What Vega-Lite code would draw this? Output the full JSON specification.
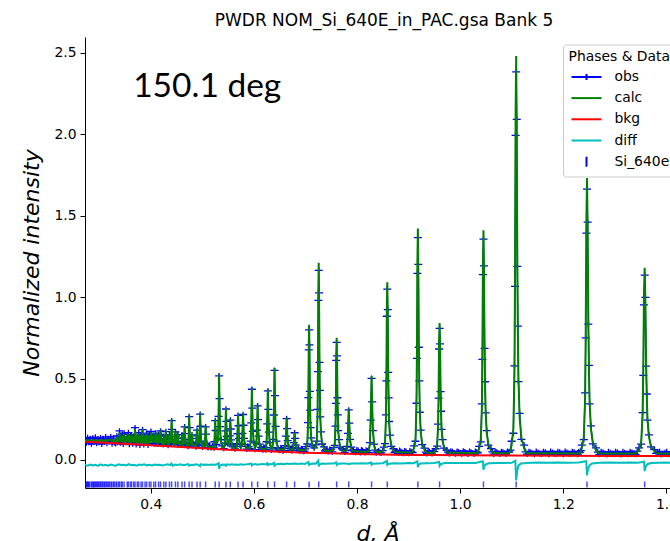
{
"$schema":"https://vega.github.io/schema/vega-lite/v6.json",
"width":585,"height":451,
"autosize":{"type":"none"},
"padding":{"left":85,"top":37,"right":0,"bottom":53},
"background":"white",
"title":{"text":"PWDR NOM_Si_640E_in_PAC.gsa Bank 5","font":"DejaVu Sans","fontSize":17,"fontWeight":"normal","color":"black","offset":7,"dx":6.5},
"config":{
 "view":{"stroke":null},
 "axis":{"domain":true,"domainColor":"black","domainWidth":1,"grid":false,"ticks":true,"tickColor":"black","tickSize":5,"tickWidth":1,"labelFont":"DejaVu Sans","labelFontSize":13.9,"labelColor":"black","labelPadding":4,"labelFlush":false,"labelOverlap":false,"titleFont":"DejaVu Sans","titleFontSize":22,"titleFontStyle":"italic","titleFontWeight":"normal","titleColor":"black"},
 "axisX":{"titlePadding":13},
 "axisY":{"titlePadding":10},
 "legend":{"padding":5.5,"fillColor":"rgba(255,255,255,0.8)","strokeColor":"#cccccc","cornerRadius":3,"titleFont":"DejaVu Sans","titleFontSize":13.9,"titleFontWeight":"normal","titleColor":"black","titlePadding":2,"labelFont":"DejaVu Sans","labelFontSize":13.9,"labelColor":"black","labelOffset":17,"symbolSize":400,"symbolStrokeWidth":2,"symbolOffset":7,"rowPadding":3.2,"symbolOpacity":1}
},
"datasets":{
"prof":[
{"d":0.2725,"obs":0.124,"calc":0.118},{"d":0.2750,"obs":0.103,"calc":0.119},{"d":0.2775,"obs":0.138,"calc":0.122},{"d":0.2800,"obs":0.108,"calc":0.118},{"d":0.2825,"obs":0.131,"calc":0.121},{"d":0.2850,"obs":0.098,"calc":0.116},{"d":0.2875,"obs":0.135,"calc":0.122},{"d":0.2900,"obs":0.112,"calc":0.118},{"d":0.2925,"obs":0.140,"calc":0.123},{"d":0.2950,"obs":0.101,"calc":0.116},{"d":0.2975,"obs":0.129,"calc":0.120},{"d":0.3000,"obs":0.107,"calc":0.117},{"d":0.3025,"obs":0.136,"calc":0.122},{"d":0.3050,"obs":0.097,"calc":0.115},{"d":0.3075,"obs":0.132,"calc":0.121},{"d":0.3100,"obs":0.110,"calc":0.118},{"d":0.3125,"obs":0.142,"calc":0.125},{"d":0.3150,"obs":0.102,"calc":0.116},{"d":0.3175,"obs":0.131,"calc":0.121},{"d":0.3200,"obs":0.114,"calc":0.121},{"d":0.3225,"obs":0.143,"calc":0.126},{"d":0.3250,"obs":0.099,"calc":0.114},{"d":0.3275,"obs":0.134,"calc":0.123},{"d":0.3300,"obs":0.106,"calc":0.116},
{"d":0.3320,"obs":0.100,"calc":0.108},{"d":0.3343,"obs":0.147,"calc":0.140},{"d":0.3359,"obs":0.108,"calc":0.110},{"d":0.3375,"obs":0.125,"calc":0.130},{"d":0.3385,"obs":0.112,"calc":0.112},{"d":0.3394,"obs":0.178,"calc":0.170},{"d":0.3411,"obs":0.104,"calc":0.110},{"d":0.3428,"obs":0.135,"calc":0.140},{"d":0.3438,"obs":0.114,"calc":0.112},{"d":0.3449,"obs":0.158,"calc":0.150},{"d":0.3466,"obs":0.097,"calc":0.108},{"d":0.3484,"obs":0.165,"calc":0.160},{"d":0.3513,"obs":0.112,"calc":0.105},{"d":0.3543,"obs":0.142,"calc":0.150},{"d":0.3555,"obs":0.118,"calc":0.112},{"d":0.3566,"obs":0.168,"calc":0.160},{"d":0.3585,"obs":0.095,"calc":0.106},{"d":0.3605,"obs":0.155,"calc":0.150},{"d":0.3617,"obs":0.116,"calc":0.110},{"d":0.3629,"obs":0.152,"calc":0.160},{"d":0.3650,"obs":0.099,"calc":0.104},{"d":0.3670,"obs":0.146,"calc":0.140},{"d":0.3683,"obs":0.110,"calc":0.108},{"d":0.3695,"obs":0.198,"calc":0.190},{"d":0.3717,"obs":0.094,"calc":0.103},{"d":0.3739,"obs":0.143,"calc":0.150},{"d":0.3752,"obs":0.112,"calc":0.107},{"d":0.3766,"obs":0.167,"calc":0.160},{"d":0.3789,"obs":0.091,"calc":0.102},{"d":0.3812,"obs":0.156,"calc":0.150},{"d":0.3826,"obs":0.108,"calc":0.106},{"d":0.3840,"obs":0.186,"calc":0.190},{"d":0.3865,"obs":0.093,"calc":0.101},{"d":0.3889,"obs":0.144,"calc":0.150},{"d":0.3905,"obs":0.109,"calc":0.104},{"d":0.3920,"obs":0.165,"calc":0.160},{"d":0.3946,"obs":0.090,"calc":0.099},{"d":0.3972,"obs":0.156,"calc":0.150},{"d":0.3988,"obs":0.104,"calc":0.103},{"d":0.4004,"obs":0.176,"calc":0.170},
{"d":0.4046,"obs":0.104,"calc":0.108},{"d":0.4059,"obs":0.146,"calc":0.150},{"d":0.4066,"obs":0.131,"calc":0.128},{"d":0.4077,"obs":0.098,"calc":0.107},{"d":0.4081,"obs":0.118,"calc":0.111},{"d":0.4094,"obs":0.165,"calc":0.170},{"d":0.4101,"obs":0.143,"calc":0.139},{"d":0.4112,"obs":0.101,"calc":0.108},{"d":0.4130,"obs":0.111,"calc":0.100},{"d":0.4140,"obs":0.097,"calc":0.108},{"d":0.4153,"obs":0.158,"calc":0.160},{"d":0.4160,"obs":0.129,"calc":0.133},{"d":0.4171,"obs":0.112,"calc":0.106},{"d":0.4177,"obs":0.103,"calc":0.111},{"d":0.4190,"obs":0.178,"calc":0.185},{"d":0.4197,"obs":0.152,"calc":0.146},{"d":0.4208,"obs":0.100,"calc":0.109},{"d":0.4230,"obs":0.108,"calc":0.097},{"d":0.4241,"obs":0.094,"calc":0.105},{"d":0.4254,"obs":0.146,"calc":0.150},{"d":0.4261,"obs":0.131,"calc":0.126},{"d":0.4272,"obs":0.099,"calc":0.103},{"d":0.4281,"obs":0.113,"calc":0.109},{"d":0.4294,"obs":0.174,"calc":0.180},{"d":0.4301,"obs":0.147,"calc":0.142},{"d":0.4312,"obs":0.101,"calc":0.107},{"d":0.4337,"obs":0.089,"calc":0.096},{"d":0.4349,"obs":0.108,"calc":0.105},{"d":0.4362,"obs":0.155,"calc":0.160},{"d":0.4369,"obs":0.136,"calc":0.131},{"d":0.4380,"obs":0.097,"calc":0.103},{"d":0.4392,"obs":0.124,"calc":0.118},{"d":0.4405,"obs":0.241,"calc":0.250},{"d":0.4412,"obs":0.188,"calc":0.180},{"d":0.4423,"obs":0.108,"calc":0.114},{"d":0.4450,"obs":0.101,"calc":0.094},{"d":0.4466,"obs":0.098,"calc":0.106},{"d":0.4479,"obs":0.173,"calc":0.180},{"d":0.4486,"obs":0.146,"calc":0.141},{"d":0.4497,"obs":0.109,"calc":0.104},{"d":0.4513,"obs":0.095,"calc":0.103},{"d":0.4526,"obs":0.156,"calc":0.160},{"d":0.4533,"obs":0.134,"calc":0.130},{"d":0.4544,"obs":0.096,"calc":0.101},{"d":0.4570,"obs":0.103,"calc":0.092},{"d":0.4593,"obs":0.093,"calc":0.101},{"d":0.4606,"obs":0.155,"calc":0.160},{"d":0.4613,"obs":0.133,"calc":0.129},{"d":0.4624,"obs":0.104,"calc":0.099},{"d":0.4644,"obs":0.101,"calc":0.108},{"d":0.4657,"obs":0.203,"calc":0.210},{"d":0.4664,"obs":0.162,"calc":0.156},{"d":0.4675,"obs":0.098,"calc":0.104},{"d":0.4700,"obs":0.097,"calc":0.089},{"d":0.4725,"obs":0.083,"calc":0.089},{"d":0.4732,"obs":0.124,"calc":0.117},{"d":0.4745,"obs":0.266,"calc":0.275},{"d":0.4752,"obs":0.199,"calc":0.191},{"d":0.4763,"obs":0.104,"calc":0.111},{"d":0.4785,"obs":0.093,"calc":0.098},{"d":0.4800,"obs":0.154,"calc":0.160},{"d":0.4808,"obs":0.132,"calc":0.127},{"d":0.4821,"obs":0.101,"calc":0.096},{"d":0.4850,"obs":0.094,"calc":0.087},{"d":0.4875,"obs":0.080,"calc":0.086},{"d":0.4882,"obs":0.108,"calc":0.102},{"d":0.4897,"obs":0.183,"calc":0.190},{"d":0.4905,"obs":0.148,"calc":0.143},{"d":0.4918,"obs":0.092,"calc":0.098},{"d":0.4943,"obs":0.110,"calc":0.116},{"d":0.4958,"obs":0.281,"calc":0.290},{"d":0.4966,"obs":0.207,"calc":0.198},{"d":0.4979,"obs":0.116,"calc":0.110},{"d":0.5005,"obs":0.078,"calc":0.084},{"d":0.5035,"obs":0.091,"calc":0.083},{"d":0.5049,"obs":0.096,"calc":0.102},{"d":0.5064,"obs":0.203,"calc":0.210},{"d":0.5072,"obs":0.159,"calc":0.153},{"d":0.5085,"obs":0.104,"calc":0.098},{"d":0.5110,"obs":0.075,"calc":0.082},{"d":0.5140,"obs":0.090,"calc":0.081},{"d":0.5170,"obs":0.076,"calc":0.081},{"d":0.5200,"obs":0.087,"calc":0.080},{"d":0.5225,"obs":0.074,"calc":0.080},{"d":0.5235,"obs":0.112,"calc":0.106},{"d":0.5250,"obs":0.242,"calc":0.250},{"d":0.5258,"obs":0.181,"calc":0.174},{"d":0.5271,"obs":0.095,"calc":0.100},{"d":0.5305,"obs":0.133,"calc":0.124},{"d":0.5315,"obs":0.268,"calc":0.282},{"d":0.5326,"obs":0.516,"calc":0.530},{"d":0.5334,"obs":0.377,"calc":0.359},{"d":0.5342,"obs":0.205,"calc":0.214},{"d":0.5358,"obs":0.124,"calc":0.120},{"d":0.5385,"obs":0.086,"calc":0.078},{"d":0.5415,"obs":0.070,"calc":0.077},{"d":0.5436,"obs":0.105,"calc":0.100},{"d":0.5447,"obs":0.178,"calc":0.186},{"d":0.5458,"obs":0.313,"calc":0.320},{"d":0.5466,"obs":0.237,"calc":0.227},{"d":0.5474,"obs":0.144,"calc":0.149},{"d":0.5491,"obs":0.100,"calc":0.098},{"d":0.5521,"obs":0.095,"calc":0.092},{"d":0.5532,"obs":0.148,"calc":0.153},{"d":0.5543,"obs":0.245,"calc":0.250},{"d":0.5551,"obs":0.190,"calc":0.183},{"d":0.5560,"obs":0.123,"calc":0.127},{"d":0.5576,"obs":0.092,"calc":0.090},{"d":0.5605,"obs":0.081,"calc":0.074},{"d":0.5635,"obs":0.068,"calc":0.074},{"d":0.5655,"obs":0.082,"calc":0.075},
{"d":0.5670,"obs":0.100,"calc":0.096},{"d":0.5682,"obs":0.161,"calc":0.167},{"d":0.5693,"obs":0.274,"calc":0.280},{"d":0.5702,"obs":0.210,"calc":0.202},{"d":0.5710,"obs":0.132,"calc":0.137},{"d":0.5727,"obs":0.096,"calc":0.093},{"d":0.5747,"obs":0.083,"calc":0.075},
{"d":0.5767,"obs":0.099,"calc":0.095},{"d":0.5778,"obs":0.163,"calc":0.169},{"d":0.5790,"obs":0.279,"calc":0.285},{"d":0.5799,"obs":0.213,"calc":0.205},{"d":0.5807,"obs":0.133,"calc":0.137},{"d":0.5825,"obs":0.095,"calc":0.093},{"d":0.5860,"obs":0.066,"calc":0.073},{"d":0.5880,"obs":0.084,"calc":0.073},{"d":0.5900,"obs":0.080,"calc":0.073},{"d":0.5918,"obs":0.069,"calc":0.073},
{"d":0.5937,"obs":0.116,"calc":0.109},{"d":0.5949,"obs":0.228,"calc":0.240},{"d":0.5961,"obs":0.434,"calc":0.445},{"d":0.5970,"obs":0.318,"calc":0.303},{"d":0.5979,"obs":0.176,"calc":0.184},{"d":0.5997,"obs":0.109,"calc":0.105},{"d":0.6022,"obs":0.064,"calc":0.071},
{"d":0.6048,"obs":0.102,"calc":0.097},{"d":0.6060,"obs":0.183,"calc":0.192},{"d":0.6072,"obs":0.332,"calc":0.340},{"d":0.6081,"obs":0.248,"calc":0.237},{"d":0.6090,"obs":0.146,"calc":0.151},{"d":0.6108,"obs":0.097,"calc":0.094},{"d":0.6140,"obs":0.077,"calc":0.069},{"d":0.6157,"obs":0.068,"calc":0.069},{"d":0.6175,"obs":0.062,"calc":0.069},{"d":0.6192,"obs":0.079,"calc":0.068},{"d":0.6210,"obs":0.074,"calc":0.068},{"d":0.6228,"obs":0.063,"calc":0.068},
{"d":0.6246,"obs":0.112,"calc":0.105},{"d":0.6258,"obs":0.222,"calc":0.233},{"d":0.6271,"obs":0.424,"calc":0.435},{"d":0.6280,"obs":0.310,"calc":0.296},{"d":0.6290,"obs":0.171,"calc":0.178},{"d":0.6309,"obs":0.105,"calc":0.101},{"d":0.6340,"obs":0.060,"calc":0.067},{"d":0.6357,"obs":0.075,"calc":0.067},
{"d":0.6374,"obs":0.126,"calc":0.116},{"d":0.6387,"obs":0.276,"calc":0.291},{"d":0.6400,"obs":0.550,"calc":0.565},{"d":0.6410,"obs":0.395,"calc":0.375},{"d":0.6419,"obs":0.206,"calc":0.216},{"d":0.6438,"obs":0.116,"calc":0.111},{"d":0.6470,"obs":0.072,"calc":0.065},{"d":0.6487,"obs":0.062,"calc":0.065},{"d":0.6505,"obs":0.059,"calc":0.065},{"d":0.6522,"obs":0.075,"calc":0.065},{"d":0.6540,"obs":0.071,"calc":0.064},{"d":0.6558,"obs":0.056,"calc":0.064},{"d":0.6575,"obs":0.058,"calc":0.064},{"d":0.6592,"obs":0.072,"calc":0.064},
{"d":0.6608,"obs":0.088,"calc":0.084},{"d":0.6622,"obs":0.146,"calc":0.152},{"d":0.6635,"obs":0.254,"calc":0.260},{"d":0.6645,"obs":0.193,"calc":0.186},{"d":0.6655,"obs":0.119,"calc":0.123},{"d":0.6675,"obs":0.084,"calc":0.082},{"d":0.6705,"obs":0.070,"calc":0.063},{"d":0.6720,"obs":0.060,"calc":0.063},{"d":0.6735,"obs":0.057,"calc":0.063},{"d":0.6748,"obs":0.071,"calc":0.063},
{"d":0.6762,"obs":0.075,"calc":0.073},{"d":0.6775,"obs":0.107,"calc":0.111},{"d":0.6789,"obs":0.167,"calc":0.170},{"d":0.6799,"obs":0.133,"calc":0.129},{"d":0.6809,"obs":0.092,"calc":0.094},{"d":0.6830,"obs":0.073,"calc":0.072},{"d":0.6865,"obs":0.069,"calc":0.062},{"d":0.6882,"obs":0.058,"calc":0.062},{"d":0.6900,"obs":0.055,"calc":0.061},{"d":0.6920,"obs":0.070,"calc":0.061},{"d":0.6940,"obs":0.068,"calc":0.061},{"d":0.6960,"obs":0.053,"calc":0.061},{"d":0.6980,"obs":0.054,"calc":0.060},{"d":0.6997,"obs":0.068,"calc":0.062},
{"d":0.7014,"obs":0.082,"calc":0.074},{"d":0.7036,"obs":0.098,"calc":0.105},{"d":0.7050,"obs":0.229,"calc":0.213},{"d":0.7057,"obs":0.383,"calc":0.406},{"d":0.7064,"obs":0.676,"calc":0.714},{"d":0.7071,"obs":0.799,"calc":0.830},{"d":0.7078,"obs":0.707,"calc":0.676},{"d":0.7085,"obs":0.421,"calc":0.445},{"d":0.7092,"obs":0.306,"calc":0.290},{"d":0.7099,"obs":0.198,"calc":0.205},{"d":0.7113,"obs":0.136,"calc":0.128},{"d":0.7135,"obs":0.086,"calc":0.090},{"d":0.7170,"obs":0.074,"calc":0.068},
{"d":0.7199,"obs":0.093,"calc":0.081},{"d":0.7221,"obs":0.116,"calc":0.127},{"d":0.7235,"obs":0.311,"calc":0.288},{"d":0.7242,"obs":0.542,"calc":0.576},{"d":0.7250,"obs":0.980,"calc":1.037},{"d":0.7257,"obs":1.164,"calc":1.210},{"d":0.7264,"obs":1.026,"calc":0.980},{"d":0.7272,"obs":0.599,"calc":0.634},{"d":0.7279,"obs":0.427,"calc":0.404},{"d":0.7286,"obs":0.265,"calc":0.277},{"d":0.7301,"obs":0.173,"calc":0.162},{"d":0.7322,"obs":0.098,"calc":0.104},{"d":0.7359,"obs":0.081,"calc":0.072},{"d":0.7380,"obs":0.055,"calc":0.058},{"d":0.7400,"obs":0.064,"calc":0.057},{"d":0.7422,"obs":0.059,"calc":0.057},{"d":0.7445,"obs":0.051,"calc":0.057},{"d":0.7470,"obs":0.065,"calc":0.056},{"d":0.7495,"obs":0.063,"calc":0.056},{"d":0.7520,"obs":0.050,"calc":0.058},
{"d":0.7544,"obs":0.076,"calc":0.069},{"d":0.7567,"obs":0.090,"calc":0.097},{"d":0.7582,"obs":0.208,"calc":0.194},{"d":0.7590,"obs":0.347,"calc":0.368},{"d":0.7597,"obs":0.611,"calc":0.646},{"d":0.7605,"obs":0.722,"calc":0.750},{"d":0.7613,"obs":0.639,"calc":0.611},{"d":0.7620,"obs":0.382,"calc":0.403},{"d":0.7628,"obs":0.277,"calc":0.264},{"d":0.7635,"obs":0.180,"calc":0.187},{"d":0.7651,"obs":0.125,"calc":0.118},{"d":0.7673,"obs":0.079,"calc":0.083},{"d":0.7711,"obs":0.069,"calc":0.063},{"d":0.7735,"obs":0.060,"calc":0.055},{"d":0.7760,"obs":0.047,"calc":0.054},{"d":0.7785,"obs":0.061,"calc":0.058},
{"d":0.7808,"obs":0.084,"calc":0.079},{"d":0.7823,"obs":0.163,"calc":0.171},{"d":0.7839,"obs":0.307,"calc":0.315},{"d":0.7851,"obs":0.226,"calc":0.215},{"d":0.7863,"obs":0.126,"calc":0.132},{"d":0.7886,"obs":0.079,"calc":0.077},{"d":0.7908,"obs":0.058,"calc":0.055},{"d":0.7930,"obs":0.060,"calc":0.053},{"d":0.7952,"obs":0.050,"calc":0.053},{"d":0.7975,"obs":0.046,"calc":0.052},{"d":0.7997,"obs":0.063,"calc":0.052},{"d":0.8020,"obs":0.059,"calc":0.052},{"d":0.8042,"obs":0.049,"calc":0.052},{"d":0.8065,"obs":0.045,"calc":0.052},{"d":0.8087,"obs":0.062,"calc":0.051},{"d":0.8110,"obs":0.058,"calc":0.051},{"d":0.8132,"obs":0.048,"calc":0.051},{"d":0.8155,"obs":0.044,"calc":0.051},{"d":0.8177,"obs":0.061,"calc":0.051},{"d":0.8200,"obs":0.057,"calc":0.051},{"d":0.8225,"obs":0.047,"calc":0.055},
{"d":0.8249,"obs":0.106,"calc":0.097},{"d":0.8265,"obs":0.245,"calc":0.259},{"d":0.8282,"obs":0.501,"calc":0.515},{"d":0.8294,"obs":0.357,"calc":0.338},{"d":0.8307,"obs":0.180,"calc":0.190},{"d":0.8332,"obs":0.097,"calc":0.092},{"d":0.8353,"obs":0.061,"calc":0.058},{"d":0.8375,"obs":0.043,"calc":0.050},{"d":0.8397,"obs":0.052,"calc":0.049},{"d":0.8420,"obs":0.056,"calc":0.049},{"d":0.8445,"obs":0.045,"calc":0.049},{"d":0.8470,"obs":0.043,"calc":0.049},{"d":0.8495,"obs":0.057,"calc":0.055},
{"d":0.8518,"obs":0.079,"calc":0.069},{"d":0.8544,"obs":0.100,"calc":0.111},{"d":0.8561,"obs":0.277,"calc":0.256},{"d":0.8570,"obs":0.486,"calc":0.517},{"d":0.8578,"obs":0.882,"calc":0.934},{"d":0.8587,"obs":1.048,"calc":1.090},{"d":0.8596,"obs":0.923,"calc":0.882},{"d":0.8604,"obs":0.538,"calc":0.569},{"d":0.8613,"obs":0.381,"calc":0.361},{"d":0.8621,"obs":0.236,"calc":0.246},{"d":0.8639,"obs":0.152,"calc":0.142},{"d":0.8664,"obs":0.084,"calc":0.090},{"d":0.8707,"obs":0.069,"calc":0.061},{"d":0.8728,"obs":0.046,"calc":0.052},{"d":0.8750,"obs":0.055,"calc":0.048},{"d":0.8775,"obs":0.050,"calc":0.047},{"d":0.8800,"obs":0.041,"calc":0.047},{"d":0.8825,"obs":0.059,"calc":0.047},{"d":0.8850,"obs":0.054,"calc":0.047},{"d":0.8875,"obs":0.045,"calc":0.047},{"d":0.8900,"obs":0.040,"calc":0.047},{"d":0.8925,"obs":0.057,"calc":0.046},{"d":0.8950,"obs":0.053,"calc":0.046},{"d":0.8975,"obs":0.043,"calc":0.046},{"d":0.9000,"obs":0.040,"calc":0.046},{"d":0.9025,"obs":0.056,"calc":0.046},{"d":0.9050,"obs":0.052,"calc":0.046},{"d":0.9078,"obs":0.046,"calc":0.052},
{"d":0.9107,"obs":0.087,"calc":0.073},{"d":0.9134,"obs":0.115,"calc":0.128},{"d":0.9152,"obs":0.348,"calc":0.321},{"d":0.9162,"obs":0.623,"calc":0.664},{"d":0.9171,"obs":1.145,"calc":1.214},{"d":0.9180,"obs":1.365,"calc":1.420},{"d":0.9189,"obs":1.200,"calc":1.145},{"d":0.9198,"obs":0.692,"calc":0.733},{"d":0.9208,"obs":0.486,"calc":0.458},{"d":0.9217,"obs":0.293,"calc":0.307},{"d":0.9235,"obs":0.183,"calc":0.170},{"d":0.9263,"obs":0.094,"calc":0.101},{"d":0.9309,"obs":0.073,"calc":0.062},{"d":0.9332,"obs":0.048,"calc":0.050},{"d":0.9355,"obs":0.039,"calc":0.046},{"d":0.9380,"obs":0.056,"calc":0.045},{"d":0.9405,"obs":0.052,"calc":0.045},{"d":0.9430,"obs":0.043,"calc":0.045},{"d":0.9455,"obs":0.038,"calc":0.045},{"d":0.9475,"obs":0.055,"calc":0.045},{"d":0.9495,"obs":0.051,"calc":0.045},
{"d":0.9524,"obs":0.069,"calc":0.061},{"d":0.9553,"obs":0.085,"calc":0.093},{"d":0.9572,"obs":0.220,"calc":0.204},{"d":0.9582,"obs":0.379,"calc":0.403},{"d":0.9591,"obs":0.681,"calc":0.721},{"d":0.9601,"obs":0.808,"calc":0.840},{"d":0.9611,"obs":0.713,"calc":0.681},{"d":0.9620,"obs":0.419,"calc":0.443},{"d":0.9630,"obs":0.299,"calc":0.284},{"d":0.9639,"obs":0.188,"calc":0.196},{"d":0.9659,"obs":0.125,"calc":0.117},{"d":0.9687,"obs":0.073,"calc":0.077},{"d":0.9735,"obs":0.061,"calc":0.055},{"d":0.9762,"obs":0.048,"calc":0.048},{"d":0.9790,"obs":0.038,"calc":0.045},{"d":0.9820,"obs":0.055,"calc":0.044},{"d":0.9850,"obs":0.051,"calc":0.044},{"d":0.9880,"obs":0.042,"calc":0.044},{"d":0.9910,"obs":0.037,"calc":0.044},{"d":0.9940,"obs":0.054,"calc":0.044},{"d":0.9970,"obs":0.050,"calc":0.044},{"d":1.0000,"obs":0.041,"calc":0.044},{"d":1.0030,"obs":0.037,"calc":0.044},{"d":1.0060,"obs":0.055,"calc":0.044},{"d":1.0090,"obs":0.050,"calc":0.044},{"d":1.0120,"obs":0.042,"calc":0.043},{"d":1.0150,"obs":0.036,"calc":0.043},{"d":1.0180,"obs":0.054,"calc":0.043},{"d":1.0210,"obs":0.049,"calc":0.043},{"d":1.0240,"obs":0.041,"calc":0.043},{"d":1.0270,"obs":0.036,"calc":0.043},{"d":1.0295,"obs":0.053,"calc":0.043},{"d":1.0320,"obs":0.049,"calc":0.043},{"d":1.0345,"obs":0.043,"calc":0.050},
{"d":1.0368,"obs":0.084,"calc":0.070},{"d":1.0400,"obs":0.111,"calc":0.125},{"d":1.0421,"obs":0.344,"calc":0.316},{"d":1.0431,"obs":0.617,"calc":0.658},{"d":1.0442,"obs":1.137,"calc":1.205},{"d":1.0452,"obs":1.355,"calc":1.410},{"d":1.0462,"obs":1.191,"calc":1.137},{"d":1.0473,"obs":0.685,"calc":0.727},{"d":1.0483,"obs":0.480,"calc":0.453},{"d":1.0494,"obs":0.289,"calc":0.303},{"d":1.0515,"obs":0.180,"calc":0.166},{"d":1.0546,"obs":0.091,"calc":0.098},{"d":1.0598,"obs":0.070,"calc":0.059},{"d":1.0625,"obs":0.050,"calc":0.048},{"d":1.0650,"obs":0.036,"calc":0.043},{"d":1.0680,"obs":0.053,"calc":0.043},{"d":1.0710,"obs":0.049,"calc":0.043},{"d":1.0740,"obs":0.040,"calc":0.042},{"d":1.0770,"obs":0.035,"calc":0.042},{"d":1.0800,"obs":0.052,"calc":0.042},{"d":1.0830,"obs":0.048,"calc":0.042},{"d":1.0860,"obs":0.041,"calc":0.042},{"d":1.0890,"obs":0.036,"calc":0.042},{"d":1.0920,"obs":0.053,"calc":0.042},{"d":1.0950,"obs":0.049,"calc":0.042},{"d":1.0975,"obs":0.060,"calc":0.055},
{"d":1.0997,"obs":0.115,"calc":0.091},{"d":1.1031,"obs":0.164,"calc":0.188},{"d":1.1053,"obs":0.578,"calc":0.530},{"d":1.1064,"obs":1.066,"calc":1.139},{"d":1.1075,"obs":1.992,"calc":2.114},{"d":1.1086,"obs":2.382,"calc":2.480},{"d":1.1097,"obs":2.090,"calc":1.992},{"d":1.1108,"obs":1.188,"calc":1.261},{"d":1.1119,"obs":0.822,"calc":0.773},{"d":1.1130,"obs":0.481,"calc":0.505},{"d":1.1153,"obs":0.286,"calc":0.261},{"d":1.1186,"obs":0.127,"calc":0.140},{"d":1.1241,"obs":0.091,"calc":0.071},{"d":1.1270,"obs":0.050,"calc":0.050},{"d":1.1300,"obs":0.035,"calc":0.042},{"d":1.1335,"obs":0.052,"calc":0.042},{"d":1.1370,"obs":0.048,"calc":0.042},{"d":1.1405,"obs":0.040,"calc":0.042},{"d":1.1440,"obs":0.034,"calc":0.042},{"d":1.1475,"obs":0.053,"calc":0.041},{"d":1.1510,"obs":0.047,"calc":0.041},{"d":1.1545,"obs":0.039,"calc":0.041},{"d":1.1580,"obs":0.035,"calc":0.041},{"d":1.1615,"obs":0.052,"calc":0.041},{"d":1.1650,"obs":0.048,"calc":0.041},{"d":1.1685,"obs":0.040,"calc":0.041},{"d":1.1720,"obs":0.034,"calc":0.041},{"d":1.1755,"obs":0.053,"calc":0.041},{"d":1.1790,"obs":0.047,"calc":0.041},{"d":1.1825,"obs":0.039,"calc":0.041},{"d":1.1860,"obs":0.035,"calc":0.041},{"d":1.1895,"obs":0.052,"calc":0.041},{"d":1.1930,"obs":0.048,"calc":0.041},{"d":1.1965,"obs":0.040,"calc":0.041},{"d":1.2000,"obs":0.034,"calc":0.041},{"d":1.2035,"obs":0.053,"calc":0.041},{"d":1.2070,"obs":0.047,"calc":0.041},{"d":1.2105,"obs":0.039,"calc":0.040},{"d":1.2140,"obs":0.035,"calc":0.040},{"d":1.2175,"obs":0.052,"calc":0.040},{"d":1.2210,"obs":0.048,"calc":0.040},{"d":1.2245,"obs":0.040,"calc":0.040},{"d":1.2280,"obs":0.034,"calc":0.040},{"d":1.2300,"obs":0.051,"calc":0.040},{"d":1.2320,"obs":0.046,"calc":0.040},{"d":1.2340,"obs":0.058,"calc":0.052},
{"d":1.2360,"obs":0.091,"calc":0.074},{"d":1.2398,"obs":0.125,"calc":0.141},{"d":1.2423,"obs":0.412,"calc":0.378},{"d":1.2435,"obs":0.750,"calc":0.801},{"d":1.2448,"obs":1.392,"calc":1.477},{"d":1.2460,"obs":1.662,"calc":1.730},{"d":1.2472,"obs":1.460,"calc":1.392},{"d":1.2485,"obs":0.834,"calc":0.885},{"d":1.2497,"obs":0.581,"calc":0.547},{"d":1.2510,"obs":0.344,"calc":0.361},{"d":1.2535,"obs":0.209,"calc":0.192},{"d":1.2572,"obs":0.099,"calc":0.108},{"d":1.2634,"obs":0.074,"calc":0.060},{"d":1.2667,"obs":0.048,"calc":0.046},{"d":1.2700,"obs":0.034,"calc":0.040},{"d":1.2735,"obs":0.052,"calc":0.040},{"d":1.2770,"obs":0.047,"calc":0.040},{"d":1.2805,"obs":0.039,"calc":0.040},{"d":1.2840,"obs":0.033,"calc":0.040},{"d":1.2875,"obs":0.051,"calc":0.040},{"d":1.2910,"obs":0.046,"calc":0.040},{"d":1.2945,"obs":0.040,"calc":0.040},{"d":1.2980,"obs":0.034,"calc":0.040},{"d":1.3015,"obs":0.052,"calc":0.040},{"d":1.3050,"obs":0.047,"calc":0.040},{"d":1.3085,"obs":0.039,"calc":0.040},{"d":1.3120,"obs":0.033,"calc":0.040},{"d":1.3155,"obs":0.051,"calc":0.040},{"d":1.3190,"obs":0.046,"calc":0.040},{"d":1.3225,"obs":0.040,"calc":0.040},{"d":1.3260,"obs":0.034,"calc":0.040},{"d":1.3295,"obs":0.052,"calc":0.040},{"d":1.3330,"obs":0.047,"calc":0.040},{"d":1.3365,"obs":0.039,"calc":0.040},{"d":1.3400,"obs":0.034,"calc":0.040},{"d":1.3435,"obs":0.054,"calc":0.048},
{"d":1.3469,"obs":0.074,"calc":0.063},{"d":1.3510,"obs":0.097,"calc":0.108},{"d":1.3537,"obs":0.291,"calc":0.268},{"d":1.3551,"obs":0.519,"calc":0.553},{"d":1.3564,"obs":0.952,"calc":1.009},{"d":1.3578,"obs":1.134,"calc":1.180},{"d":1.3592,"obs":0.998,"calc":0.952},{"d":1.3605,"obs":0.576,"calc":0.610},{"d":1.3619,"obs":0.405,"calc":0.382},{"d":1.3632,"obs":0.245,"calc":0.257},{"d":1.3659,"obs":0.154,"calc":0.143},{"d":1.3700,"obs":0.080,"calc":0.086},{"d":1.3768,"obs":0.063,"calc":0.054},{"d":1.3800,"obs":0.041,"calc":0.044},{"d":1.3830,"obs":0.047,"calc":0.040},{"d":1.3865,"obs":0.052,"calc":0.040},{"d":1.3900,"obs":0.033,"calc":0.040},{"d":1.3935,"obs":0.039,"calc":0.040},{"d":1.3970,"obs":0.046,"calc":0.039},{"d":1.4005,"obs":0.051,"calc":0.039},{"d":1.4040,"obs":0.034,"calc":0.039},{"d":1.4075,"obs":0.040,"calc":0.039},{"d":1.4110,"obs":0.047,"calc":0.039}
],
"bkg":[
{"d":0.2725,"bkg":0.112},{"d":0.30,"bkg":0.107},{"d":0.35,"bkg":0.099},{"d":0.40,"bkg":0.090},{"d":0.45,"bkg":0.081},{"d":0.50,"bkg":0.072},{"d":0.55,"bkg":0.063},{"d":0.60,"bkg":0.056},{"d":0.65,"bkg":0.050},{"d":0.70,"bkg":0.045},{"d":0.75,"bkg":0.041},{"d":0.80,"bkg":0.037},{"d":0.85,"bkg":0.034},{"d":0.90,"bkg":0.031},{"d":0.95,"bkg":0.030},{"d":1.00,"bkg":0.029},{"d":1.10,"bkg":0.027},{"d":1.20,"bkg":0.026},{"d":1.30,"bkg":0.025},{"d":1.41,"bkg":0.024}
],
"diff":[
{"d":0.2725,"diff":-0.031},{"d":0.2775,"diff":-0.035},{"d":0.2825,"diff":-0.028},{"d":0.2875,"diff":-0.034},{"d":0.2925,"diff":-0.029},{"d":0.2975,"diff":-0.036},{"d":0.3025,"diff":-0.027},{"d":0.3075,"diff":-0.033},{"d":0.3125,"diff":-0.029},{"d":0.3175,"diff":-0.035},{"d":0.3225,"diff":-0.028},{"d":0.3275,"diff":-0.032},{"d":0.3325,"diff":-0.035},{"d":0.3375,"diff":-0.027},{"d":0.3425,"diff":-0.031},{"d":0.3475,"diff":-0.029},{"d":0.3525,"diff":-0.034},{"d":0.3575,"diff":-0.026},{"d":0.3625,"diff":-0.032},{"d":0.3675,"diff":-0.029},{"d":0.3725,"diff":-0.035},{"d":0.3775,"diff":-0.028},{"d":0.3825,"diff":-0.031},{"d":0.3875,"diff":-0.026},{"d":0.3925,"diff":-0.033},{"d":0.3975,"diff":-0.030},{"d":0.4025,"diff":-0.034},{"d":0.4075,"diff":-0.028},{"d":0.4125,"diff":-0.031},{"d":0.4175,"diff":-0.029},{"d":0.4225,"diff":-0.034},{"d":0.4275,"diff":-0.030},{"d":0.4325,"diff":-0.027},{"d":0.4375,"diff":-0.032},{"d":0.4400,"diff":-0.022},{"d":0.4425,"diff":-0.035},{"d":0.4475,"diff":-0.028},{"d":0.4525,"diff":-0.031},{"d":0.4575,"diff":-0.027},{"d":0.4625,"diff":-0.032},{"d":0.4675,"diff":-0.029},{"d":0.4725,"diff":-0.025},{"d":0.4745,"diff":-0.036},{"d":0.4775,"diff":-0.029},{"d":0.4825,"diff":-0.031},{"d":0.4875,"diff":-0.027},{"d":0.4925,"diff":-0.030},{"d":0.4958,"diff":-0.038},{"d":0.4975,"diff":-0.026},{"d":0.5025,"diff":-0.030},{"d":0.5075,"diff":-0.028},{"d":0.5125,"diff":-0.031},{"d":0.5175,"diff":-0.028},{"d":0.5225,"diff":-0.030},{"d":0.5275,"diff":-0.028},{"d":0.5318,"diff":-0.020},{"d":0.5326,"diff":-0.055},{"d":0.5336,"diff":-0.038},{"d":0.5375,"diff":-0.029},{"d":0.5425,"diff":-0.028},{"d":0.5458,"diff":-0.036},{"d":0.5475,"diff":-0.027},{"d":0.5525,"diff":-0.029},{"d":0.5575,"diff":-0.027},{"d":0.5625,"diff":-0.029},
{"d":0.5660,"diff":-0.028},{"d":0.5693,"diff":-0.031},{"d":0.5740,"diff":-0.026},{"d":0.5790,"diff":-0.029},{"d":0.5850,"diff":-0.027},{"d":0.5900,"diff":-0.025},{"d":0.5950,"diff":-0.022},{"d":0.5961,"diff":-0.034},{"d":0.5985,"diff":-0.027},{"d":0.6030,"diff":-0.025},{"d":0.6072,"diff":-0.029},{"d":0.6120,"diff":-0.026},{"d":0.6180,"diff":-0.024},{"d":0.6230,"diff":-0.027},{"d":0.6262,"diff":-0.020},{"d":0.6271,"diff":-0.031},{"d":0.6300,"diff":-0.025},{"d":0.6350,"diff":-0.026},{"d":0.6390,"diff":-0.018},{"d":0.6400,"diff":-0.035},{"d":0.6420,"diff":-0.028},{"d":0.6470,"diff":-0.025},{"d":0.6530,"diff":-0.023},{"d":0.6590,"diff":-0.026},{"d":0.6635,"diff":-0.022},{"d":0.6700,"diff":-0.025},{"d":0.6789,"diff":-0.021},{"d":0.6850,"diff":-0.024},{"d":0.6920,"diff":-0.022},{"d":0.6990,"diff":-0.024},{"d":0.7060,"diff":-0.012},{"d":0.7071,"diff":-0.030},{"d":0.7090,"diff":-0.026},{"d":0.7140,"diff":-0.022},{"d":0.7200,"diff":-0.023},{"d":0.7250,"diff":-0.004},{"d":0.7257,"diff":-0.040},{"d":0.7272,"diff":-0.028},{"d":0.7320,"diff":-0.022},{"d":0.7400,"diff":-0.023},{"d":0.7480,"diff":-0.021},{"d":0.7550,"diff":-0.022},{"d":0.7598,"diff":-0.014},{"d":0.7605,"diff":-0.030},{"d":0.7625,"diff":-0.024},{"d":0.7700,"diff":-0.021},{"d":0.7780,"diff":-0.022},{"d":0.7839,"diff":-0.025},{"d":0.7900,"diff":-0.021},{"d":0.8000,"diff":-0.022},{"d":0.8100,"diff":-0.020},{"d":0.8200,"diff":-0.021},{"d":0.8275,"diff":-0.015},{"d":0.8282,"diff":-0.029},{"d":0.8300,"diff":-0.023},{"d":0.8400,"diff":-0.021},{"d":0.8500,"diff":-0.020},{"d":0.8580,"diff":-0.006},{"d":0.8587,"diff":-0.030},{"d":0.8605,"diff":-0.025},{"d":0.8700,"diff":-0.020},{"d":0.8850,"diff":-0.021},{"d":0.9000,"diff":-0.019},{"d":0.9100,"diff":-0.020},{"d":0.9170,"diff":-0.008},{"d":0.9180,"diff":-0.045},{"d":0.9195,"diff":-0.030},{"d":0.9230,"diff":-0.022},{"d":0.9350,"diff":-0.020},{"d":0.9500,"diff":-0.019},{"d":0.9592,"diff":-0.012},{"d":0.9601,"diff":-0.036},{"d":0.9620,"diff":-0.026},{"d":0.9700,"diff":-0.019},{"d":0.9850,"diff":-0.018},{"d":1.0000,"diff":-0.019},{"d":1.0150,"diff":-0.018},{"d":1.0300,"diff":-0.019},{"d":1.0440,"diff":-0.008},{"d":1.0452,"diff":-0.060},{"d":1.0470,"diff":-0.038},{"d":1.0500,"diff":-0.026},{"d":1.0560,"diff":-0.020},{"d":1.0700,"diff":-0.018},{"d":1.0850,"diff":-0.019},{"d":1.1000,"diff":-0.017},{"d":1.1070,"diff":-0.004},{"d":1.1086,"diff":-0.125},{"d":1.1105,"diff":-0.070},{"d":1.1130,"diff":-0.035},{"d":1.1180,"diff":-0.022},{"d":1.1300,"diff":-0.018},{"d":1.1500,"diff":-0.016},{"d":1.1700,"diff":-0.017},{"d":1.1900,"diff":-0.016},{"d":1.2100,"diff":-0.017},{"d":1.2300,"diff":-0.016},{"d":1.2445,"diff":-0.008},{"d":1.2460,"diff":-0.095},{"d":1.2480,"diff":-0.055},{"d":1.2510,"diff":-0.032},{"d":1.2560,"diff":-0.021},{"d":1.2700,"diff":-0.017},{"d":1.2900,"diff":-0.016},{"d":1.3100,"diff":-0.017},{"d":1.3300,"diff":-0.016},{"d":1.3450,"diff":-0.017},{"d":1.3565,"diff":-0.010},{"d":1.3578,"diff":-0.068},{"d":1.3600,"diff":-0.040},{"d":1.3630,"diff":-0.026},{"d":1.3700,"diff":-0.019},{"d":1.3850,"diff":-0.017},{"d":1.4000,"diff":-0.016},{"d":1.4100,"diff":-0.017}
],
"refl":[
{"d":0.2733},{"d":0.2743},{"d":0.2761},{"d":0.2771},{"d":0.2790},{"d":0.2801},{"d":0.2820},{"d":0.2851},{"d":0.2862},{"d":0.2883},{"d":0.2895},{"d":0.2915},{"d":0.2928},{"d":0.2950},{"d":0.2963},{"d":0.2985},{"d":0.2999},{"d":0.3022},{"d":0.3036},{"d":0.3060},{"d":0.3075},{"d":0.3100},{"d":0.3115},{"d":0.3141},{"d":0.3157},{"d":0.3184},{"d":0.3200},{"d":0.3228},{"d":0.3246},{"d":0.3275},{"d":0.3293},{"d":0.3324},{"d":0.3343},{"d":0.3375},{"d":0.3394},{"d":0.3428},{"d":0.3449},{"d":0.3484},{"d":0.3543},{"d":0.3566},{"d":0.3605},{"d":0.3629},{"d":0.3670},{"d":0.3695},{"d":0.3739},{"d":0.3766},{"d":0.3812},{"d":0.3840},{"d":0.3889},{"d":0.3920},{"d":0.3972},{"d":0.4004},{"d":0.4059},{"d":0.4094},{"d":0.4153},{"d":0.4190},{"d":0.4254},{"d":0.4294},{"d":0.4362},{"d":0.4405},{"d":0.4479},{"d":0.4526},{"d":0.4606},{"d":0.4657},{"d":0.4745},{"d":0.4800},{"d":0.4897},{"d":0.4958},{"d":0.5064},{"d":0.5250},{"d":0.5326},{"d":0.5458},{"d":0.5543},{"d":0.5693},{"d":0.5790},{"d":0.5961},{"d":0.6072},{"d":0.6271},{"d":0.6400},{"d":0.6635},{"d":0.6789},{"d":0.7071},{"d":0.7257},{"d":0.7605},{"d":0.7839},{"d":0.8282},{"d":0.8587},{"d":0.9180},{"d":0.9601},{"d":1.0452},{"d":1.1086},{"d":1.2460},{"d":1.3578}
]
},
"layer":[
{"data":{"name":"prof"},"mark":{"type":"line","color":"#0000ff","strokeWidth":1.2,"clip":true},
 "encoding":{"x":{"field":"d","type":"quantitative","scale":{"domain":[0.2725,1.4069],"nice":false,"zero":false},"title":"d, Å","axis":{"values":[0.4,0.6,0.8,1.0,1.2,1.4],"format":".1f"}},
 "y":{"field":"obs","type":"quantitative","scale":{"domain":[-0.172,2.596],"nice":false,"zero":false},"title":"Normalized intensity","axis":{"values":[0,0.5,1,1.5,2,2.5],"format":".1f"}}}},
{"data":{"name":"prof"},"mark":{"type":"point","shape":"M-1,0H1M0,-0.7V0.7","filled":false,"color":"#0000ff","size":64,"strokeWidth":1.3,"opacity":1,"clip":true},
 "encoding":{"x":{"field":"d","type":"quantitative","scale":{"domain":[0.2725,1.4069],"nice":false,"zero":false},"title":"d, Å"},
 "y":{"field":"obs","type":"quantitative","scale":{"domain":[-0.172,2.596],"nice":false,"zero":false},"title":"Normalized intensity"}}},
{"data":{"name":"prof"},"mark":{"type":"line","color":"#008000","strokeWidth":2,"clip":true},
 "encoding":{"x":{"field":"d","type":"quantitative","scale":{"domain":[0.2725,1.4069],"nice":false,"zero":false},"title":"d, Å"},
 "y":{"field":"calc","type":"quantitative","scale":{"domain":[-0.172,2.596],"nice":false,"zero":false},"title":"Normalized intensity"}}},
{"data":{"name":"bkg"},"mark":{"type":"line","color":"#ff0000","strokeWidth":2,"clip":true},
 "encoding":{"x":{"field":"d","type":"quantitative","scale":{"domain":[0.2725,1.4069],"nice":false,"zero":false},"title":"d, Å"},
 "y":{"field":"bkg","type":"quantitative","scale":{"domain":[-0.172,2.596],"nice":false,"zero":false},"title":"Normalized intensity"}}},
{"data":{"name":"diff"},"mark":{"type":"line","color":"#00bfbf","strokeWidth":2,"clip":true},
 "encoding":{"x":{"field":"d","type":"quantitative","scale":{"domain":[0.2725,1.4069],"nice":false,"zero":false},"title":"d, Å"},
 "y":{"field":"diff","type":"quantitative","scale":{"domain":[-0.172,2.596],"nice":false,"zero":false},"title":"Normalized intensity"}}},
{"mark":{"type":"rule","color":"black","strokeWidth":2},
 "encoding":{"y":{"datum":0,"type":"quantitative","scale":{"domain":[-0.172,2.596],"nice":false,"zero":false},"title":"Normalized intensity"}}},
{"mark":{"type":"rule","color":"black","strokeWidth":1},
 "encoding":{"y":{"datum":2.596,"type":"quantitative","scale":{"domain":[-0.172,2.596],"nice":false,"zero":false},"title":"Normalized intensity"}}},
{"data":{"name":"refl"},"mark":{"type":"tick","orient":"vertical","color":"#0000ff","size":6,"thickness":1.5,"clip":true},
 "encoding":{"x":{"field":"d","type":"quantitative","scale":{"domain":[0.2725,1.4069],"nice":false,"zero":false},"title":"d, Å"},
 "y":{"datum":-0.150,"type":"quantitative","scale":{"domain":[-0.172,2.596],"nice":false,"zero":false},"title":"Normalized intensity"}}},
{"data":{"values":[{"label":"150.1 deg","d":0.5095,"v":2.228}]},"mark":{"type":"text","font":"Lato","fontSize":33.5,"align":"center","baseline":"alphabetic","color":"black"},
 "encoding":{"x":{"field":"d","type":"quantitative","scale":{"domain":[0.2725,1.4069],"nice":false,"zero":false},"title":"d, Å"},
 "y":{"field":"v","type":"quantitative","scale":{"domain":[-0.172,2.596],"nice":false,"zero":false},"title":"Normalized intensity"},
 "text":{"field":"label"}}},
{"data":{"values":[{"series":"obs"},{"series":"calc"},{"series":"bkg"},{"series":"diff"},{"series":"Si_640e"}]},
 "mark":{"type":"point","filled":false,"opacity":0,"strokeWidth":2},
 "encoding":{
 "color":{"field":"series","type":"nominal","scale":{"domain":["obs","calc","bkg","diff","Si_640e"],"range":["#0000ff","#008000","#ff0000","#00bfbf","#0000ff"]},"legend":{"title":"Phases & Data","orient":"none","legendX":478,"legendY":7.5,"direction":"vertical"}},
 "shape":{"field":"series","type":"nominal","scale":{"domain":["obs","calc","bkg","diff","Si_640e"],"range":["M-1.5,0H1.5M0,-0.3V0.3","M-1.5,0H1.5","M-1.5,0H1.5","M-1.5,0H1.5","M0,-0.5V0.5"]},"legend":{"title":"Phases & Data","orient":"none","legendX":478,"legendY":7.5,"direction":"vertical"}}}}
]
}
